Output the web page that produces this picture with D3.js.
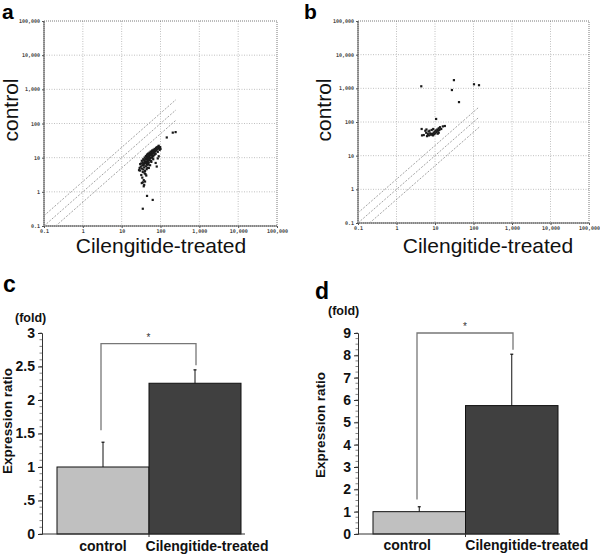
<!DOCTYPE html>
<html><head><meta charset="utf-8">
<script src="https://cdn.jsdelivr.net/npm/d3@7"></script>
<style>body{margin:0;background:#fff}svg{display:block}</style>
</head><body>
<svg id="c" width="600" height="556"></svg>
<script>
// ---------- DATA ----------
const logTicks = [0.1, 1, 10, 100, 1000, 10000, 100000];
const logTickLabels = ["0.1", "1", "10", "100", "1,000", "10,000", "100,000"];
const foldLines = [2, 1, 0.5];
const foldEndA = 250;
const foldEndB = 140;
// panel a: [Cilengitide-treated, control]
const pointsA = [
 [28,4.3],[29,5.0],[30,6.5],[30,4.2],[31,5.5],[32,3.1],[32,6.8],[33,4.8],[33,8.1],[34,2.6],[34,5.9],[35,7.2],[35,3.8],
 [36,9.0],[36,4.5],[37,6.1],[37,2.2],[38,8.4],[38,5.2],[39,10.1],[39,3.5],[40,6.9],[40,4.1],[41,9.3],[41,7.8],
 [42,5.6],[42,11.2],[43,8.8],[43,3.0],[44,6.4],[44,10.5],[45,7.5],[45,12.3],[46,9.1],[46,5.1],[47,11.0],[47,8.0],
 [48,13.1],[48,6.6],[49,9.9],[50,7.2],[50,12.0],[51,10.6],[52,14.0],[52,8.4],[53,11.5],[54,6.0],[54,13.2],[55,9.8],
 [56,15.1],[56,11.9],[57,8.1],[58,12.8],[59,14.5],[60,10.2],[61,16.2],[62,13.3],[63,11.1],[64,15.4],[65,9.0],
 [66,17.0],[67,13.9],[68,16.0],[70,12.2],[71,18.1],[72,15.2],[74,17.3],[75,13.0],[77,19.0],[78,16.1],[80,20.2],
 [82,17.5],[85,14.8],[86,21.0],[88,18.4],[90,22.3],[92,19.5],[95,16.9],[98,20.5],[100,18.0],[85,9.5],[75,7.0],
 [90,11.0],[80,5.5],[35,1.9],[38,1.6],[40,2.0],[37,1.45],[33,1.8],[36,6.5],[39,7.4],[42,7.0],[45,9.8],[48,10.5],
 [51,8.9],[53,9.5],[57,12.0],[60,13.0],[62,10.0],[44,4.6],[41,3.3],[47,6.2],[50,5.0],[58,7.5],[66,11.5],[69,14.2],
 [145,39],[207,54],[245,56],[45,0.76],[63,0.58],[35,0.32]
];
// panel b: [Cilengitide-treated, control]
const pointsB = [
 [4.4,1150],[31,1750],[27.5,890],[42,390],[103,1320],[139,1240],[10.7,123],
 [4.5,62],[4.6,40],[5.1,41],[5.6,55],[5.9,48],[6.2,38],[6.5,44],[6.8,52],[7.0,40],[7.5,46],[7.8,42],
 [8.2,58],[8.5,44],[8.8,40],[9.2,48],[9.5,43],[9.8,52],[10.2,46],[10.5,56],[11,50],[11.5,60],[12,55],
 [12.5,65],[13,58],[13.5,70],[14.5,62],[16,74],[18,76],[6.0,60],[7.2,55],[9.0,62],[11.8,45],[8.0,44],[12.5,48]
];
const barCategories = ["control", "Cilengitide-treated"];
const barValuesC = [1.0, 2.25];
const barErrC = [0.37, 0.2];
const barValuesD = [1.0, 5.75];
const barErrD = [0.22, 2.3];
const yTicksC = [0, 0.5, 1, 1.5, 2, 2.5, 3];
const yTickLabelsC = ["0", ".5", "1", "1.5", "2", "2.5", "3"];
const yTicksD = [0, 1, 2, 3, 4, 5, 6, 7, 8, 9];
const bracketC = {left: 1.55, top: 2.84, right: 2.52};
const bracketD = {left: 1.55, top: 9.0, right: 8.25};
const barColors = ["#c0c0c0", "#404040"];

// ---------- DRAW ----------
const svg = d3.select("#c");

function scatter(cfg) {
  const g = svg.append("g");
  const x = d3.scaleLog().domain([0.1, 100000]).range([cfg.x0, cfg.x1]);
  const y = d3.scaleLog().domain([0.1, 100000]).range([cfg.y1, cfg.y0]);
  logTicks.slice(1, -1).forEach(t => {
    g.append("line").attr("x1", x(t)).attr("x2", x(t)).attr("y1", cfg.y0).attr("y2", cfg.y1)
      .attr("stroke", "#b0b0b0").attr("stroke-width", 0.8).attr("stroke-dasharray", "1,1.5");
    g.append("line").attr("y1", y(t)).attr("y2", y(t)).attr("x1", cfg.x0).attr("x2", cfg.x1)
      .attr("stroke", "#b0b0b0").attr("stroke-width", 0.8).attr("stroke-dasharray", "1,1.5");
  });
  g.append("rect").attr("x", cfg.x0).attr("y", cfg.y0).attr("width", cfg.x1 - cfg.x0).attr("height", cfg.y1 - cfg.y0)
    .attr("fill", "none").attr("stroke", "#555").attr("stroke-width", 0.8).attr("stroke-dasharray", "1,1");
  g.append("line").attr("x1", cfg.x0).attr("x2", cfg.x0).attr("y1", cfg.y0).attr("y2", cfg.y1).attr("stroke", "#444").attr("stroke-width", 0.9);
  g.append("line").attr("x1", cfg.x0).attr("x2", cfg.x1).attr("y1", cfg.y1).attr("y2", cfg.y1).attr("stroke", "#444").attr("stroke-width", 0.9);
  const xa = d3.axisBottom(x).tickValues(logTicks).tickFormat((d, i) => logTickLabels[i]).tickSize(2).tickPadding(1);
  const ya = d3.axisLeft(y).tickValues(logTicks).tickFormat((d, i) => logTickLabels[i]).tickSize(2).tickPadding(2);
  const gx = g.append("g").attr("transform", `translate(0,${cfg.y1})`).call(xa);
  const gy = g.append("g").attr("transform", `translate(${cfg.x0},0)`).call(ya);
  [gx, gy].forEach(a => {
    a.select(".domain").remove();
    a.selectAll("line").attr("stroke", "#555");
    a.selectAll("text").attr("font-family", "DejaVu Sans Mono, monospace").attr("font-size", 5).attr("fill", "#444").attr("font-weight", "bold");
  });
  foldLines.forEach(f => {
    const xs = Math.max(0.1, 0.1 / f);
    g.append("line").attr("x1", x(xs)).attr("y1", y(xs * f)).attr("x2", x(cfg.foldEnd)).attr("y2", y(cfg.foldEnd * f))
      .attr("stroke", "#999").attr("stroke-width", 0.9).attr("stroke-dasharray", "2,1.5");
  });
  g.selectAll("rect.pt").data(cfg.points).join("rect").attr("class", "pt")
    .attr("x", d => x(d[0]) - 1.1).attr("y", d => y(d[1]) - 1.1).attr("width", 2.2).attr("height", 2.2)
    .attr("fill", "#1a1a1a");
  g.append("text").attr("x", cfg.xTitleX).attr("y", 253).attr("text-anchor", "middle")
    .attr("font-family", "Arial, Liberation Sans, sans-serif").attr("font-size", 21).attr("fill", "#111").text("Cilengitide-treated");
  g.append("text").attr("transform", `translate(${cfg.yTitleX},110) rotate(-90)`).attr("text-anchor", "middle")
    .attr("font-family", "Arial, Liberation Sans, sans-serif").attr("font-size", 21).attr("fill", "#111").text("control");
  g.append("text").attr("x", cfg.labelX).attr("y", 19).attr("font-family", "Arial, Liberation Sans, sans-serif")
    .attr("font-size", 21).attr("font-weight", "bold").text(cfg.label);
}

scatter({x0: 44, x1: 277, y0: 21, y1: 226, points: pointsA, foldEnd: foldEndA, xTitleX: 161, yTitleX: 18, labelX: 2, label: "a"});
scatter({x0: 358, x1: 589, y0: 21, y1: 223, points: pointsB, foldEnd: foldEndB, xTitleX: 488, yTitleX: 331, labelX: 304, label: "b"});

function bars(cfg) {
  const g = svg.append("g");
  const x = d3.scaleBand().domain(barCategories).range([cfg.b0, cfg.b1]).padding(0);
  const y = d3.scaleLinear().domain([0, cfg.max]).range([534, 333]);
  const font = "Arial, Liberation Sans, sans-serif";
  d3.range(0, cfg.max + 1e-9, cfg.minor).forEach(v => {
    g.append("line").attr("x1", cfg.ax - 2.5).attr("x2", cfg.ax).attr("y1", y(v)).attr("y2", y(v)).attr("stroke", "#666").attr("stroke-width", 0.8);
  });
  const ya = d3.axisLeft(y).tickValues(cfg.ticks).tickFormat((d, i) => cfg.tickLabels[i]).tickSize(4).tickPadding(3);
  const gy = g.append("g").attr("transform", `translate(${cfg.ax},0)`).call(ya);
  gy.select(".domain").attr("stroke", "#333");
  gy.selectAll("line").attr("stroke", "#333");
  gy.selectAll("text").attr("font-family", font).attr("font-size", 14).attr("font-weight", "bold").attr("fill", "#111");
  g.selectAll("rect.bar").data(barCategories).join("rect").attr("class", "bar")
    .attr("x", d => x(d)).attr("width", x.bandwidth())
    .attr("y", (d, i) => y(cfg.values[i])).attr("height", (d, i) => y(0) - y(cfg.values[i]))
    .attr("fill", (d, i) => barColors[i]).attr("stroke", "#111").attr("stroke-width", 1);
  barCategories.forEach((c, i) => {
    const cx = x(c) + x.bandwidth() / 2;
    g.append("line").attr("x1", cx).attr("x2", cx).attr("y1", y(cfg.values[i])).attr("y2", y(cfg.values[i] + cfg.errs[i])).attr("stroke", "#111").attr("stroke-width", 1);
    g.append("line").attr("x1", cx - 1.5).attr("x2", cx + 1.5).attr("y1", y(cfg.values[i] + cfg.errs[i])).attr("y2", y(cfg.values[i] + cfg.errs[i])).attr("stroke", "#111").attr("stroke-width", 1.2);
  });
  g.append("line").attr("x1", cfg.ax).attr("x2", cfg.axEnd).attr("y1", y(0)).attr("y2", y(0)).attr("stroke", "#333").attr("stroke-width", 1);
  g.append("line").attr("x1", x(barCategories[1])).attr("x2", x(barCategories[1])).attr("y1", y(0)).attr("y2", y(0) + 3).attr("stroke", "#333");
  barCategories.forEach((c, i) => {
    g.append("text").attr("x", x(c) + x.bandwidth() / 2 + cfg.labelShift[i]).attr("y", cfg.xLabelY).attr("text-anchor", "middle")
      .attr("font-family", font).attr("font-size", 14).attr("font-weight", "bold").attr("fill", "#111").text(c);
  });
  const bx0 = cfg.brLeft, bx1 = cfg.brRight;
  g.append("path").attr("d", `M${bx0},${y(cfg.br.left)}V${y(cfg.br.top)}H${bx1}V${y(cfg.br.right)}`)
    .attr("fill", "none").attr("stroke", "#777").attr("stroke-width", 1.3);
  g.append("text").attr("x", (bx0 + bx1) / 2).attr("y", y(cfg.br.top) - 3).attr("text-anchor", "middle")
    .attr("font-family", font).attr("font-size", 10).attr("fill", "#333").text("*");
  g.append("text").attr("x", cfg.foldX).attr("y", cfg.foldY).attr("font-family", font).attr("font-size", 12.5).attr("font-weight", "bold").attr("fill", "#111").text("(fold)");
  g.append("text").attr("transform", `translate(${cfg.yTitleX},${cfg.yTitleY}) rotate(-90)`).attr("text-anchor", "middle")
    .attr("font-family", font).attr("font-size", 13.5).attr("font-weight", "bold").attr("fill", "#111").text("Expression ratio");
  g.append("text").attr("x", cfg.labelX).attr("y", cfg.labelY).attr("font-family", font).attr("font-size", 23).attr("font-weight", "bold").text(cfg.label);
}

bars({b0: 57, b1: 241, ax: 42, axEnd: 245, max: 3, minor: 0.1, ticks: yTicksC, tickLabels: yTickLabelsC,
  values: barValuesC, errs: barErrC, br: bracketC, brLeft: 101, brRight: 196, xLabelY: 551, labelShift: [0, 12],
  foldX: 15, foldY: 322, yTitleX: 12, yTitleY: 421, labelX: 3, labelY: 292, label: "c"});
bars({b0: 373, b1: 558, ax: 358, axEnd: 560, max: 9, minor: 0.25, ticks: yTicksD, tickLabels: yTicksD.map(String),
  values: barValuesD, errs: barErrD, br: bracketD, brLeft: 417, brRight: 513, xLabelY: 550, labelShift: [-12, 15],
  foldX: 328, foldY: 315, yTitleX: 325, yTitleY: 425, labelX: 315, labelY: 299, label: "d"});
</script>
</body></html>
